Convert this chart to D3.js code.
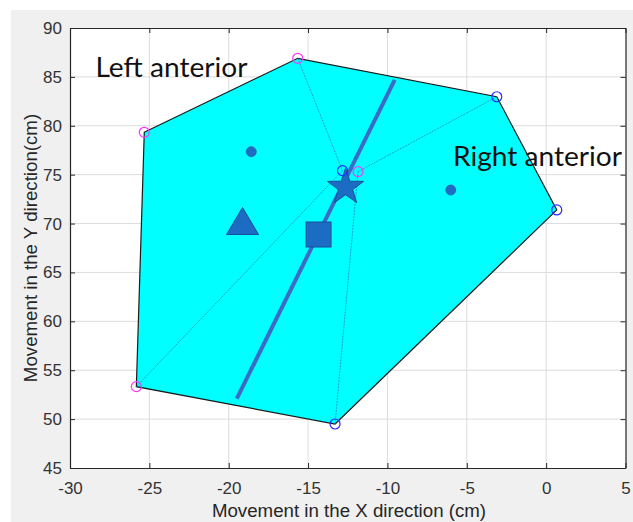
<!DOCTYPE html>
<html><head><meta charset="utf-8">
<script src="https://cdn.jsdelivr.net/npm/d3@7"></script>
<style>body{margin:0;background:#fff}svg{display:block}</style>
</head><body>
<svg id="c" width="633" height="522"></svg>
<script>
// Data
const hullX = [-25.32, -15.65, -3.11, 0.67, -13.30, -25.82];
const hullY = [79.33, 86.90, 82.97, 71.39, 49.50, 53.32];
const leftX = [-25.32, -15.65, -25.82, -11.85];
const leftY = [79.33, 86.90, 53.32, 75.31];
const rightX = [-3.11, 0.67, -13.30, -12.83];
const rightY = [82.97, 71.39, 49.50, 75.41];
const spokeFromX = [-15.65, -3.11, -25.82, -13.30];
const spokeFromY = [86.90, 82.97, 53.32, 49.50];
const spokeToX = [-12.83, -11.85, -12.83, -11.85];
const spokeToY = [75.41, 75.31, 75.41, 75.31];
const dotX = [-18.58, -6.01];
const dotY = [77.35, 73.43];
const axisLineX = [-19.49, -9.54];
const axisLineY = [52.10, 84.70];
const triangleXY = [-19.13, 70.21];
const squareXY = [-14.34, 68.88];
const starXY = [-12.64, 73.71];
const xTicks = [-30, -25, -20, -15, -10, -5, 0, 5];
const yTicks = [45, 50, 55, 60, 65, 70, 75, 80, 85, 90];
const labels = ["Left anterior", "Right anterior"];
const labelX = [-28.4, -5.87];
const labelY = [84.99, 75.9];

const svg = d3.select("#c");
svg.append("rect").attr("x", 11).attr("y", 10).attr("width", 622).attr("height", 512).attr("fill", "#f0f0f0");

const x = d3.scaleLinear().domain([-30, 5]).range([70, 625.5]);
const y = d3.scaleLinear().domain([45, 90]).range([468, 28]);
const X0 = x.range()[0], X1 = x.range()[1], Y0 = y.range()[0], Y1 = y.range()[1];

svg.append("rect").attr("x", X0).attr("y", Y1).attr("width", X1 - X0).attr("height", Y0 - Y1).attr("fill", "#fff");

// grid
const g = svg.append("g");
g.selectAll(".gx").data(xTicks.slice(1, -1)).join("line")
  .attr("x1", d => x(d)).attr("x2", d => x(d)).attr("y1", Y1).attr("y2", Y0)
  .attr("stroke", "#dcdcdc").attr("stroke-width", 1);
g.selectAll(".gy").data(yTicks.slice(1, -1)).join("line")
  .attr("y1", d => y(d)).attr("y2", d => y(d)).attr("x1", X0).attr("x2", X1)
  .attr("stroke", "#dcdcdc").attr("stroke-width", 1);

// hull
const hull = hullX.map((v, i) => [x(v), y(hullY[i])]);
svg.append("path").attr("d", "M" + hull.join("L") + "Z")
  .attr("fill", "#00ffff").attr("stroke", "#1a1a1a").attr("stroke-width", 1.2);

// spokes
svg.selectAll(".sp").data(spokeFromX).join("line")
  .attr("x1", (d, i) => x(d)).attr("y1", (d, i) => y(spokeFromY[i]))
  .attr("x2", (d, i) => x(spokeToX[i])).attr("y2", (d, i) => y(spokeToY[i]))
  .attr("stroke", "#1f86d0").attr("stroke-width", 0.8).attr("stroke-dasharray", "2,1");

// thick line
svg.append("line")
  .attr("x1", x(axisLineX[0])).attr("y1", y(axisLineY[0]))
  .attr("x2", x(axisLineX[1])).attr("y2", y(axisLineY[1]))
  .attr("stroke", "#3a6bc8").attr("stroke-width", 4);

// dots
svg.selectAll(".dot").data(dotX).join("circle")
  .attr("cx", d => x(d)).attr("cy", (d, i) => y(dotY[i])).attr("r", 5)
  .attr("fill", "#1f6dc3").attr("stroke", "#2a5fb0").attr("stroke-width", 0.8);

const fillM = "#1c6cc4", strokeM = "#16509c";
// triangle
(function () {
  const cx = x(triangleXY[0]), cy = y(triangleXY[1]);
  svg.append("path").attr("d", `M${cx},${cy - 14}L${cx + 16},${cy + 13}L${cx - 16},${cy + 13}Z`)
    .attr("fill", fillM).attr("stroke", strokeM).attr("stroke-width", 1);
})();
// square
svg.append("rect").attr("x", x(squareXY[0]) - 12.5).attr("y", y(squareXY[1]) - 12.5)
  .attr("width", 25).attr("height", 25).attr("fill", fillM).attr("stroke", strokeM).attr("stroke-width", 1);
// star
(function () {
  const cx = x(starXY[0]), cy = y(starXY[1]);
  const R = 19, r = 7.5, pts = [];
  for (let k = 0; k < 10; k++) {
    const a = -Math.PI / 2 + k * Math.PI / 5, rr = k % 2 ? r : R;
    pts.push([cx + rr * Math.cos(a), cy + rr * Math.sin(a)]);
  }
  svg.append("path").attr("d", "M" + pts.join("L") + "Z")
    .attr("fill", fillM).attr("stroke", strokeM).attr("stroke-width", 1);
})();

// hollow circles
svg.selectAll(".lc").data(leftX).join("circle")
  .attr("cx", d => x(d)).attr("cy", (d, i) => y(leftY[i])).attr("r", 5)
  .attr("fill", "none").attr("stroke", "#ff33ff").attr("stroke-width", 1.2);
svg.selectAll(".rc").data(rightX).join("circle")
  .attr("cx", d => x(d)).attr("cy", (d, i) => y(rightY[i])).attr("r", 5)
  .attr("fill", "none").attr("stroke", "#2a2aff").attr("stroke-width", 1.2);

// text labels
const lw = [152, 169];
svg.selectAll(".lab").data(labels).join("text")
  .attr("x", (d, i) => x(labelX[i])).attr("y", (d, i) => y(labelY[i]))
  .attr("font-family", "Lato, 'Open Sans', sans-serif").attr("font-size", 26)
  .attr("textLength", (d, i) => lw[i]).attr("lengthAdjust", "spacingAndGlyphs")
  .attr("fill", "#111").text(d => d);

// axes box and ticks
const axColor = "#262626";
const fmt = d => String(d);
const axB = svg.append("g").attr("transform", `translate(0,${Y0})`)
  .call(d3.axisBottom(x).tickValues(xTicks).tickFormat(fmt).tickSize(-5).tickSizeOuter(0).tickPadding(14));
const axL = svg.append("g").attr("transform", `translate(${X0},0)`)
  .call(d3.axisLeft(y).tickValues(yTicks).tickFormat(fmt).tickSize(-5).tickSizeOuter(0).tickPadding(8));
const axT = svg.append("g").attr("transform", `translate(0,${Y1})`)
  .call(d3.axisTop(x).tickValues(xTicks).tickSize(-5).tickSizeOuter(0).tickFormat(""));
const axR = svg.append("g").attr("transform", `translate(${X1},0)`)
  .call(d3.axisRight(y).tickValues(yTicks).tickSize(-5).tickSizeOuter(0).tickFormat(""));
[axB, axL, axT, axR].forEach(a => {
  a.select(".domain").attr("stroke", axColor).attr("stroke-width", 1.2);
  a.selectAll(".tick line").attr("stroke", axColor);
  a.selectAll("text").attr("fill", "#333").attr("font-family", "'Liberation Sans', Arial, sans-serif").attr("font-size", 17);
});

// axis titles
svg.append("text").attr("x", 349).attr("y", 517).attr("text-anchor", "middle")
  .attr("font-family", "'Liberation Sans', Arial, sans-serif").attr("font-size", 18.7).attr("fill", axColor)
  .text("Movement in the X direction (cm)");
svg.append("text").attr("transform", "translate(37,248) rotate(-90)").attr("text-anchor", "middle")
  .attr("font-family", "'Liberation Sans', Arial, sans-serif").attr("font-size", 18.7).attr("fill", axColor)
  .text("Movement in the Y direction(cm)");
</script>
</body></html>
